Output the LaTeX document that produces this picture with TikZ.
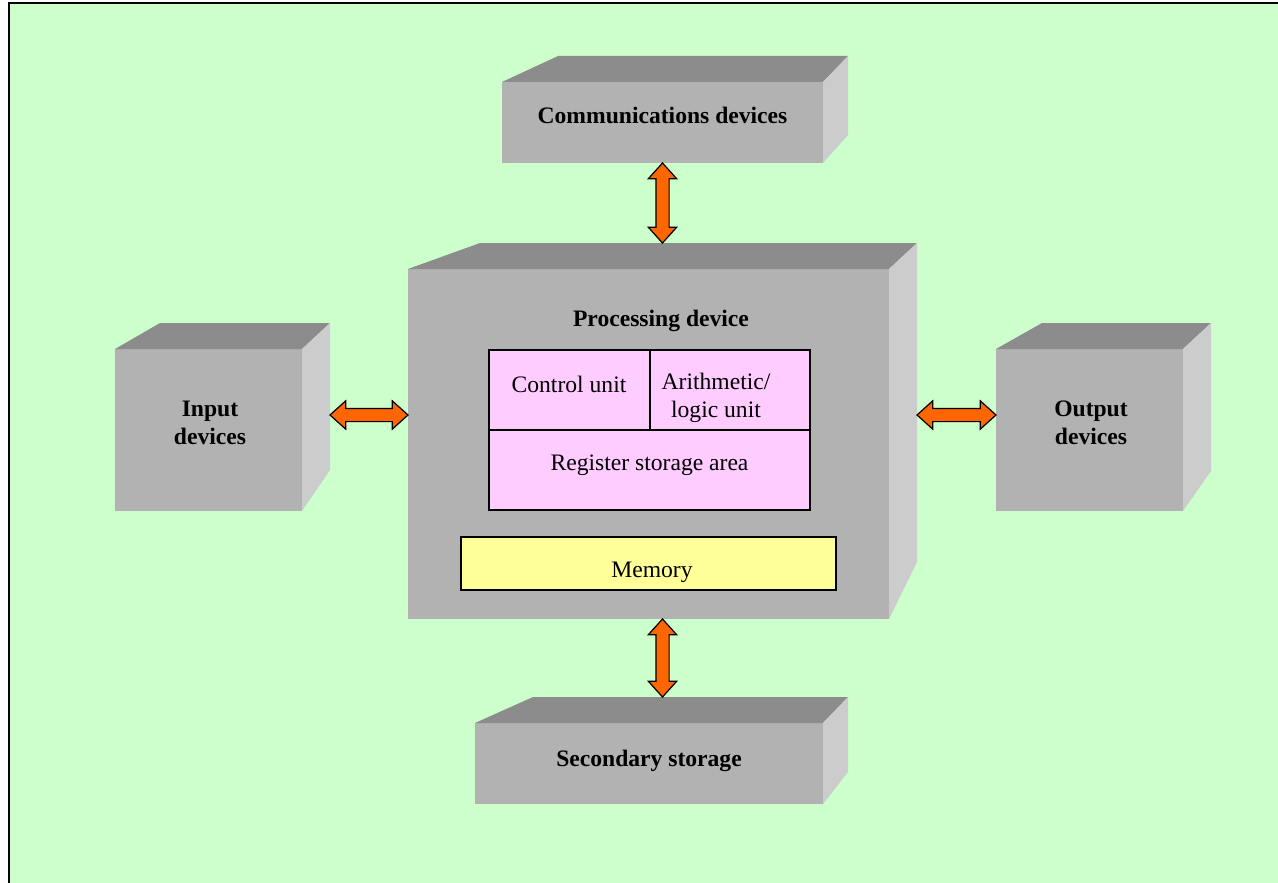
\documentclass[tikz,border=0pt]{standalone}
\usepackage{fontspec}
\setmainfont{Liberation Serif}
\usetikzlibrary{calc,shapes.arrows}
\definecolor{bggreen}{HTML}{CCFFCC}
\definecolor{frontgray}{HTML}{B2B2B2}
\definecolor{topgray}{HTML}{8C8C8C}
\definecolor{sidegray}{HTML}{CCCCCC}
\definecolor{cellpink}{HTML}{FFCCFF}
\definecolor{memyellow}{HTML}{FFFF99}
\definecolor{arroworange}{HTML}{FF6600}
\tikzset{
  frontface/.style={rectangle, fill=frontgray, inner sep=0pt, outer sep=0pt},
  topface/.style={fill=topgray},
  sideface/.style={fill=sidegray},
  boxlabel/.style={font=\fontsize{23.6}{28.5}\selectfont\bfseries, align=center},
  innerlabel/.style={font=\fontsize{23.6}{28}\selectfont, align=center},
  unitbox/.style={rectangle, draw=black, line width=1.8pt, fill=cellpink, inner sep=0pt},
  linkarrow/.style={double arrow, draw=black, line width=1.2pt, fill=arroworange,
    inner xsep=0pt, inner ysep=6pt, minimum width=27pt,
    double arrow head extend=7.5pt, double arrow tip angle=84}
}
% #1 name, #2 centre, #3 width, #4 height, #5 #6 back edge offsets, #7 side rise
\newcommand\blockbox[7]{
  \node[frontface, minimum width=#3pt, minimum height=#4pt] (#1) at (#2) {};
  \fill[topface] (#1.north west) -- ++(#5,-26) -- ($(#1.north east)+(#6,-26)$) -- (#1.north east) -- cycle;
  \fill[sideface] (#1.north east) -- ++(#6,-26) -- ($(#1.south east)+(#6,-#7)$) -- (#1.south east) -- cycle;
  \coordinate (#1-back) at ($(#1.north)+(0,-26)$);
  \coordinate (#1-side) at ($(#1.east)+(#6,0)$);
}
\newcommand\linkarrow[3]{
  \path let \p1=(#2), \p2=(#3), \n1={veclen(\x2-\x1,\y2-\y1)} in
    (\p1) -- (\p2) node[linkarrow, midway, sloped, minimum height=\n1] (#1) {};
}
\begin{document}
\begin{tikzpicture}[x={(1pt,0pt)},y={(0pt,-1pt)}]
\useasboundingbox (0,0) rectangle (1278,883);
\fill[bggreen] (9,3.5) rectangle (1278,883);
\draw[line width=2pt] (9,883) -- (9,3.5) -- (1278,3.5);
\blockbox{comm}{662.5,122.5}{321}{81}{56}{25}{28}
\blockbox{proc}{648.5,444}{481}{350}{72}{28}{57}
\blockbox{input}{208.5,430}{187}{162}{45}{28}{41}
\blockbox{output}{1089.5,430}{187}{162}{46}{28}{40}
\blockbox{sec}{649,763.5}{348}{81}{58}{25}{32}
\node[boxlabel] (comm-label) at (662.5,115) {Communications devices};
\node[boxlabel] (proc-label) at (661,321) {Processing device};
\node[boxlabel] (input-label) at (210,423) {Input\\devices};
\node[boxlabel] (output-label) at (1091,423) {Output\\devices};
\node[boxlabel] (sec-label) at (649,760.5) {Secondary storage};
\node[unitbox, minimum width=161pt, minimum height=80pt] (ctrl) at (569.5,390) {};
\node[unitbox, minimum width=160pt, minimum height=80pt] (alu) at (730,390) {};
\node[unitbox, minimum width=321pt, minimum height=80pt] (reg) at (649.5,470) {};
\node[unitbox, fill=memyellow, minimum width=375pt, minimum height=53pt] (mem) at (648.5,563.5) {};
\node[innerlabel] (ctrl-label) at (569,384) {Control unit};
\node[innerlabel] (alu-label) at (716,397.5) {Arithmetic/\\logic unit};
\node[innerlabel] (reg-label) at (649.5,465.5) {Register storage area};
\node[innerlabel] (mem-label) at (652,572.5) {Memory};
\linkarrow{arr-top}{comm.south}{comm.south |- proc-back}
\linkarrow{arr-left}{input-side |- 0,415}{proc.west |- 0,415}
\linkarrow{arr-right}{proc-side |- 0,415}{output.west |- 0,415}
\linkarrow{arr-bottom}{comm.south |- proc.south}{comm.south |- sec-back}
\end{tikzpicture}
\end{document}
